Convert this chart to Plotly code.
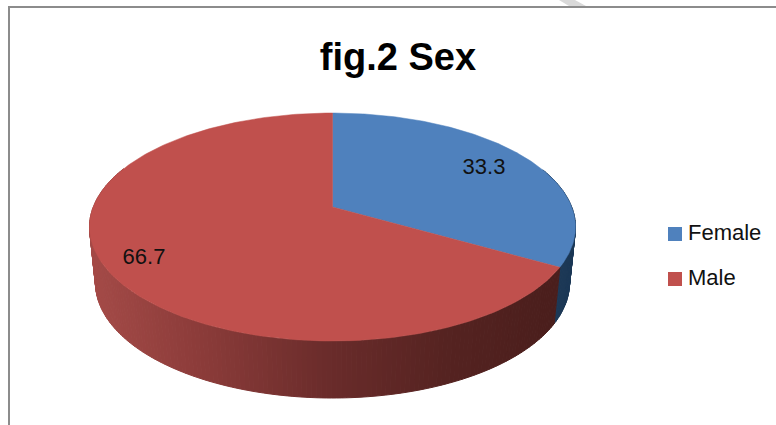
import numpy as np
import plotly.graph_objects as go

categories = ["Female", "Male"]
values = [33.3, 66.7]
top_colors = ["#4F81BD", "#C0504D"]
title_text = "fig.2 Sex"

W, H = 776, 425
CX, CY, RX, RY = 332.5, 227, 243, 114
BCY, BRX, BRY = 283, 237, 115
D = 20 / 114
KEY_X, KEY_TEXT_X, KEY_Y = 675, 688, [234, 279]


def rim(frac):
    """Position on the tilted disc's rim for a fraction of the turn (clockwise from 12 o'clock)."""
    a = 2 * np.pi * np.asarray(frac, dtype=float)
    x, y = np.sin(a), np.cos(a)
    den = 1 + D * y
    return x * np.sqrt(1 - D * D) / den, (y + D) / den


def mix(stops, x):
    xs = [s[0] for s in stops]
    return "rgb(%d,%d,%d)" % tuple(np.interp(x, xs, [s[1][i] for s in stops]) for i in range(3))


red_stops = [(90, (165, 75, 72)), (200, (140, 60, 58)), (330, (106, 44, 43)), (450, (85, 35, 33)), (560, (74, 30, 28))]
blue_stops = [(550, (28, 56, 86)), (580, (28, 56, 86))]

fig = go.Figure()
total = sum(values)
start = 0.0
ax, ay = CX, CY - 20
spans = []
for v in values:
    spans.append((start, start + v / total))
    start += v / total

# side wall
for (f0, f1), stops in zip(spans, [blue_stops, red_stops]):
    edges = np.linspace(f0, f1, max(2, int((f1 - f0) * 360)))
    for a, b in zip(edges[:-1], edges[1:]):
        ux, uy = rim([a, b])
        if uy[0] > 0.5 and uy[1] > 0.5:
            continue
        xs = list(CX + RX * ux) + list(CX + BRX * ux[::-1])
        ys = list(CY - RY * uy) + list(BCY - BRY * uy[::-1])
        c = mix(stops, float(np.mean(xs)))
        fig.add_trace(go.Scatter(x=xs + xs[:1], y=ys + ys[:1], mode="lines", fill="toself",
                                 fillcolor=c, line=dict(color=c, width=1), hoverinfo="skip", showlegend=False))

# top face
for (f0, f1), color, name in zip(spans, top_colors, categories):
    ux, uy = rim(np.linspace(f0, f1, 240))
    xs = [ax] + list(CX + RX * ux) + [ax]
    ys = [ay] + list(CY - RY * uy) + [ay]
    fig.add_trace(go.Scatter(x=xs, y=ys, mode="lines", fill="toself", fillcolor=color, name=name,
                             line=dict(color=color, width=0.5), hoverinfo="skip", showlegend=False))

# value labels
fig.add_trace(go.Scatter(x=[484, 144], y=[168.5, 258], mode="text", text=[str(v) for v in values],
                         textfont=dict(family="Liberation Sans", size=22, color="#111111"),
                         hoverinfo="skip", showlegend=False))

# legend, placed by hand for the reference's tight key-to-text gap
fig.add_trace(go.Scatter(x=[KEY_X] * 2, y=KEY_Y, mode="markers", hoverinfo="skip", showlegend=False,
                         marker=dict(symbol="square", size=14, color=top_colors)))
fig.add_trace(go.Scatter(x=[KEY_TEXT_X] * 2, y=KEY_Y, mode="text", text=categories, textposition="middle right",
                         textfont=dict(family="Liberation Sans", size=22, color="#111111"),
                         hoverinfo="skip", showlegend=False))

fig.update_layout(
    width=W, height=H, autosize=False, margin=dict(l=0, r=0, t=0, b=0),
    paper_bgcolor="white", plot_bgcolor="white", showlegend=False,
    xaxis=dict(range=[0, W], visible=False, fixedrange=True),
    yaxis=dict(range=[H, 0], visible=False, fixedrange=True),
    title=dict(text=title_text, x=398 / W, xanchor="center", y=1 - 57 / H, yanchor="middle",
               font=dict(family="Liberation Sans", size=38, color="#000000", weight="bold")),
    shapes=[dict(type="line", xref="paper", yref="paper", x0=9 / W, x1=9 / W, y0=0, y1=1 - 6 / H,
                 line=dict(color="#8c8c8c", width=2)),
            dict(type="line", xref="paper", yref="paper", x0=8 / W, x1=1, y0=1 - 7 / H, y1=1 - 7 / H,
                 line=dict(color="#8c8c8c", width=2)),
            dict(type="path", xref="paper", yref="paper",
                 path="M %f %f L %f %f L %f %f L %f %f Z" % (559 / W, 1, 575 / W, 1, 586 / W, 1 - 6 / H, 569 / W, 1 - 6 / H),
                 fillcolor="#d9d9d9", line=dict(width=0))],
)
fig.write_html("out.html", config={"displayModeBar": False},
               post_script="document.body.style.margin='0';document.body.style.overflow='hidden';")
